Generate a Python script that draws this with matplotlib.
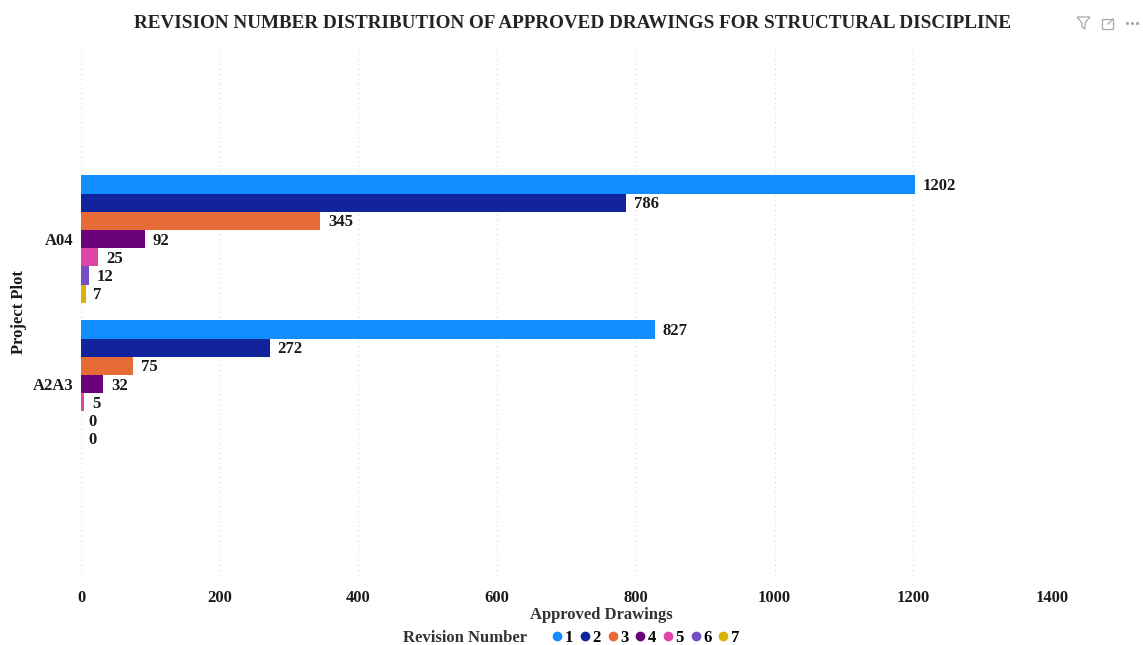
import numpy as np
import matplotlib.pyplot as plt
from matplotlib.lines import Line2D
from matplotlib.patches import Polygon, Rectangle

plt.rcParams["font.family"] = ["Liberation Serif", "DejaVu Serif"]
plt.rcParams["font.weight"] = "bold"

# Data
plots = ["A04", "A2A3"]
revisions = ["1", "2", "3", "4", "5", "6", "7"]
a04_counts = [1202, 786, 345, 92, 25, 12, 7]
a2a3_counts = [827, 272, 75, 32, 5, 0, 0]
colors = ["#118DFF", "#12239E", "#E66C37", "#6B007B", "#E044A7", "#744EC2", "#D9B300"]
xticks = [0, 200, 400, 600, 800, 1000, 1200, 1400]

W, H = 1143, 645
fig = plt.figure(figsize=(W / 100, H / 100), dpi=100)
ax = fig.add_axes([81 / W, 1 - 580 / H, (1052 - 81) / W, (580 - 45) / H])

# one category step is 145 px, one bar is 18.2 px
bar_h = 18.2 / 145
for i, rev in enumerate(revisions):
    y = np.arange(2) + (i - 3) * bar_h
    vals = [a04_counts[i], a2a3_counts[i]]
    ax.barh(y, vals, height=bar_h, color=colors[i], zorder=3)
    for yy, v in zip(y, vals):
        ax.annotate(str(v), (v, yy), xytext=(5.5, -1.2), textcoords="offset points",
                    va="center", ha="left", fontsize=12, color="#1a1a1a")

ax.set_xlim(0, 1400)
ax.set_ylim((580 - 239) / 145, (45 - 239) / 145)
ax.set_yticks(np.arange(2))
ax.set_yticklabels(plots)
ax.set_xticks(xticks)
ax.tick_params(length=0, labelsize=12, labelcolor="#1a1a1a")
ax.tick_params(axis="x", pad=7)
ax.tick_params(axis="y", pad=5.5)
ax.grid(axis="x", color="#E2E2E2", linestyle=(0, (1, 2.5)), linewidth=1, zorder=0)
for s in ax.spines.values():
    s.set_visible(False)

fig.text(573 / W, 1 - 24 / H, "REVISION NUMBER DISTRIBUTION OF APPROVED DRAWINGS FOR STRUCTURAL DISCIPLINE",
         ha="center", va="center", fontsize=13.82, color="#252423")
fig.text(601 / W, 1 - 615 / H, "Approved Drawings", ha="center", va="center", fontsize=12, color="#333333")
fig.text(19 / W, 1 - 312 / H, "Project Plot", rotation=90, ha="center", va="center", fontsize=12, color="#1a1a1a")
fig.text(403 / W, 1 - 638.5 / H, "Revision Number", ha="left", va="center", fontsize=12, color="#333333")

handles = [Line2D([], [], linestyle="none", marker="o", markersize=6, color=c) for c in colors]
fig.legend(handles, revisions, loc="center left", bbox_to_anchor=(553 / W, 1 - 638 / H), ncol=7,
           frameon=False, fontsize=12, handlelength=0.5, handletextpad=0.2, columnspacing=0.46,
           borderpad=0, borderaxespad=0)

# visual header icons
icon = "#a8a8a8"
fig.add_artist(Polygon([(1077 / W, 1 - 17 / H), (1090 / W, 1 - 17 / H), (1085 / W, 1 - 23 / H), (1085 / W, 1 - 29 / H),
                        (1082 / W, 1 - 27 / H), (1082 / W, 1 - 23 / H)], closed=True, fill=False, edgecolor=icon,
                       linewidth=0.9, transform=fig.transFigure))
fig.add_artist(Rectangle((1102 / W, 1 - 29 / H), 11 / W, 10 / H, fill=False, edgecolor=icon, linewidth=0.9,
                         transform=fig.transFigure))
fig.add_artist(Line2D([1108 / W, 1113 / W], [1 - 24 / H, 1 - 19 / H], color=icon, linewidth=0.9))
for px in [1127, 1132, 1137]:
    fig.add_artist(Line2D([px / W], [1 - 23 / H], marker="o", markersize=1.3, color=icon, linestyle="none"))

fig.savefig("out.png", dpi=100)
